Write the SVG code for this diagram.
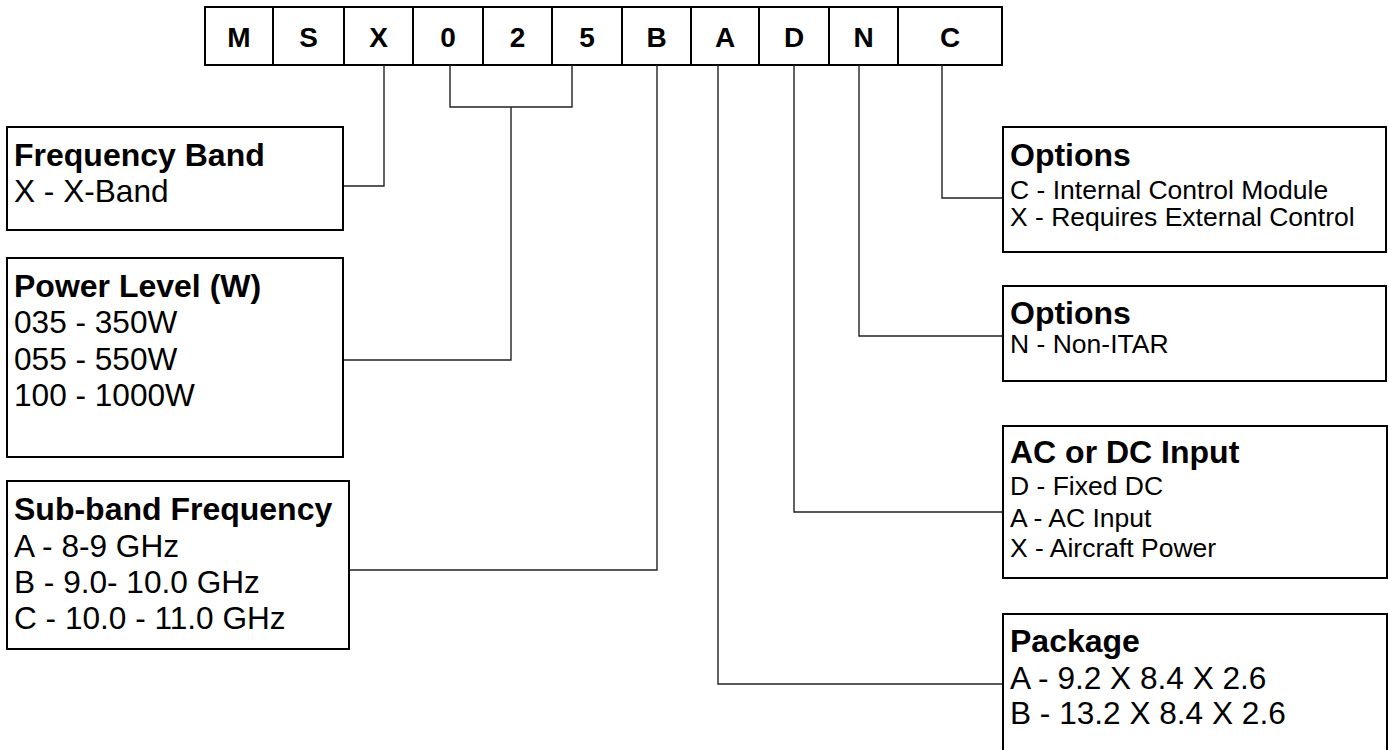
<svg xmlns="http://www.w3.org/2000/svg" width="1389" height="750" viewBox="0 0 1389 750">
<style>
.bg{fill:#fff}
.cell{fill:#fff;stroke:#000;stroke-width:2}
.box{fill:#fff;stroke:#000;stroke-width:2}
.code{font-family:"Liberation Sans",Arial,sans-serif;font-weight:bold;font-size:28px;text-anchor:middle;fill:#000}
.hd{font-family:"Liberation Sans",Arial,sans-serif;font-weight:bold;font-size:32px;fill:#000}
.tx{font-family:"Liberation Sans",Arial,sans-serif;font-size:31.6px;fill:#000}
.ts{font-family:"Liberation Sans",Arial,sans-serif;font-size:26.5px;fill:#000}
.conn{fill:none;stroke:#222;stroke-width:1.4}
</style>
<rect class="bg" x="0" y="0" width="1389" height="750"/>
<g id="code">
<rect class="cell" x="205" y="7" width="797" height="58"/>
<path class="cell" d="M273 7V65M344 7V65M413 7V65M483 7V65M552 7V65M622 7V65M691 7V65M759 7V65M829 7V65M898 7V65"/>
<text class="code" x="239" y="47">M</text>
<text class="code" x="308.5" y="47">S</text>
<text class="code" x="378.5" y="47">X</text>
<text class="code" x="448" y="47">0</text>
<text class="code" x="517.5" y="47">2</text>
<text class="code" x="587" y="47">5</text>
<text class="code" x="656.5" y="47">B</text>
<text class="code" x="725" y="47">A</text>
<text class="code" x="794" y="47">D</text>
<text class="code" x="863.5" y="47">N</text>
<text class="code" x="950" y="47">C</text>
</g>
<g id="connectors">
<path class="conn" d="M384 65V186H343"/>
<path class="conn" d="M450 65V107H572V65M511 107V360H343"/>
<path class="conn" d="M657 65V570H349"/>
<path class="conn" d="M718 65V684H1003"/>
<path class="conn" d="M794 65V512H1003"/>
<path class="conn" d="M859 65V336H1003"/>
<path class="conn" d="M942 65V198H1003"/>
</g>
<g id="frequency-band">
<rect class="box" x="7" y="127" width="336" height="103"/>
<text class="hd" x="14" y="166">Frequency Band</text>
<text class="tx" x="14" y="202">X - X-Band</text>
</g>
<g id="power-level">
<rect class="box" x="7" y="258" width="336" height="199"/>
<text class="hd" x="14" y="297">Power Level (W)</text>
<text class="tx" x="14" y="333">035 - 350W</text>
<text class="tx" x="14" y="370">055 - 550W</text>
<text class="tx" x="14" y="406">100 - 1000W</text>
</g>
<g id="sub-band">
<rect class="box" x="7" y="481" width="342" height="168"/>
<text class="hd" x="14" y="520">Sub-band Frequency</text>
<text class="tx" x="14" y="557">A - 8-9 GHz</text>
<text class="tx" x="14" y="593">B - 9.0- 10.0 GHz</text>
<text class="tx" x="14" y="629">C - 10.0 - 11.0 GHz</text>
</g>
<g id="options-c">
<rect class="box" x="1003" y="127" width="383" height="125"/>
<text class="hd" x="1010" y="166">Options</text>
<text class="ts" x="1010" y="199">C - Internal Control Module</text>
<text class="ts" x="1010" y="226">X - Requires External Control</text>
</g>
<g id="options-n">
<rect class="box" x="1003" y="286" width="383" height="95"/>
<text class="hd" x="1010" y="324">Options</text>
<text class="ts" x="1010" y="353">N - Non-ITAR</text>
</g>
<g id="ac-dc">
<rect class="box" x="1003" y="426" width="384" height="152"/>
<text class="hd" x="1010" y="463">AC or DC Input</text>
<text class="ts" x="1010" y="495">D - Fixed DC</text>
<text class="ts" x="1010" y="527">A - AC Input</text>
<text class="ts" x="1010" y="557">X - Aircraft Power</text>
</g>
<g id="package">
<rect class="box" x="1003" y="614" width="384" height="150"/>
<text class="hd" x="1010" y="652">Package</text>
<text class="tx" x="1010" y="689">A - 9.2 X 8.4 X 2.6</text>
<text class="tx" x="1010" y="724">B - 13.2 X 8.4 X 2.6</text>
</g>
</svg>
